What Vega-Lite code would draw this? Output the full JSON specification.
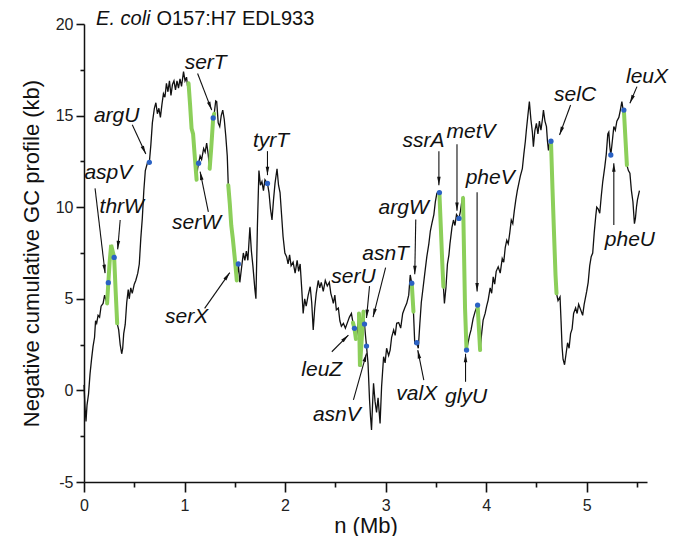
{
  "$schema": "https://vega.github.io/schema/vega-lite/v6.json",
  "width": 563,
  "height": 458,
  "autosize": {"type": "none"},
  "padding": {"left": 84, "top": 24, "right": 27, "bottom": 54},
  "background": "white",
  "config": {
    "view": {"stroke": null},
    "font": "Liberation Sans",
    "axis": {
      "grid": false,
      "domainColor": "#111",
      "domainWidth": 1.5,
      "labelColor": "#222",
      "labelFont": "Liberation Sans",
      "labelFontSize": 16,
      "titleFont": "Liberation Sans",
      "titleFontSize": 22,
      "titleFontWeight": "normal",
      "titleColor": "#111",
      "labelOverlap": false,
      "labelFlush": false
    }
  },
  "datasets": {
    "profile": [
      {"n":0.000,"gc":0.3},{"n":0.010,"gc":-0.9},{"n":0.020,"gc":-1.7},{"n":0.030,"gc":-0.8},{"n":0.045,"gc":-0.2},
      {"n":0.060,"gc":0.9},{"n":0.076,"gc":1.75},{"n":0.090,"gc":2.4},{"n":0.105,"gc":2.9},{"n":0.115,"gc":3.8},
      {"n":0.126,"gc":3.66},{"n":0.140,"gc":4.1},{"n":0.155,"gc":4.0},{"n":0.170,"gc":4.6},{"n":0.190,"gc":4.75},
      {"n":0.205,"gc":5.2},{"n":0.215,"gc":5.0},
      {"n":0.230,"gc":4.75,"i":"I1"},{"n":0.242,"gc":5.88,"i":"I1"},{"n":0.255,"gc":7.0,"i":"I1"},{"n":0.270,"gc":7.94,"i":"I1"},
      {"n":0.285,"gc":7.6,"i":"I1"},{"n":0.300,"gc":7.26,"i":"I1"},{"n":0.315,"gc":5.4,"i":"I1"},{"n":0.330,"gc":3.66,"i":"I1"},
      {"n":0.345,"gc":3.3},{"n":0.360,"gc":2.5},{"n":0.375,"gc":2.0},{"n":0.385,"gc":2.3},{"n":0.395,"gc":3.1},
      {"n":0.410,"gc":3.6},{"n":0.425,"gc":4.8},{"n":0.440,"gc":5.5},{"n":0.450,"gc":5.0},{"n":0.465,"gc":5.6},
      {"n":0.480,"gc":5.3},{"n":0.500,"gc":5.8},{"n":0.515,"gc":6.0},{"n":0.535,"gc":6.4},{"n":0.550,"gc":6.9},
      {"n":0.565,"gc":8.3},{"n":0.580,"gc":9.4},{"n":0.595,"gc":10.9},{"n":0.610,"gc":12.0},{"n":0.630,"gc":12.4},
      {"n":0.650,"gc":12.45},{"n":0.665,"gc":13.4},{"n":0.680,"gc":14.6},{"n":0.700,"gc":15.4},{"n":0.715,"gc":15.7},
      {"n":0.730,"gc":15.1},{"n":0.745,"gc":15.4},{"n":0.760,"gc":14.9},{"n":0.775,"gc":15.6},{"n":0.790,"gc":16.2},
      {"n":0.805,"gc":16.0},{"n":0.820,"gc":16.76},{"n":0.835,"gc":16.3},{"n":0.850,"gc":16.9},{"n":0.865,"gc":16.1},
      {"n":0.880,"gc":16.7},{"n":0.895,"gc":16.9},{"n":0.910,"gc":16.4},{"n":0.925,"gc":16.9},{"n":0.940,"gc":16.5},
      {"n":0.955,"gc":17.0},{"n":0.970,"gc":16.6},{"n":0.990,"gc":17.4},{"n":1.005,"gc":16.9},{"n":1.020,"gc":17.1},
      {"n":1.030,"gc":16.6},
      {"n":1.040,"gc":16.76,"i":"I2"},{"n":1.055,"gc":15.6,"i":"I2"},{"n":1.070,"gc":14.3,"i":"I2"},{"n":1.085,"gc":14.0,"i":"I2"},
      {"n":1.100,"gc":12.9,"i":"I2"},{"n":1.120,"gc":11.5,"i":"I2"},
      {"n":1.130,"gc":12.1},{"n":1.140,"gc":12.4},{"n":1.155,"gc":12.8},{"n":1.170,"gc":12.6},{"n":1.190,"gc":13.2},
      {"n":1.205,"gc":13.0},{"n":1.220,"gc":13.5},{"n":1.235,"gc":12.9},
      {"n":1.250,"gc":12.1,"i":"I3"},{"n":1.265,"gc":13.2,"i":"I3"},{"n":1.285,"gc":14.87,"i":"I3"},{"n":1.295,"gc":15.1,"i":"I3"},
      {"n":1.310,"gc":15.8},{"n":1.320,"gc":15.76},{"n":1.335,"gc":14.6},{"n":1.350,"gc":14.4},{"n":1.365,"gc":15.0},
      {"n":1.380,"gc":15.3},{"n":1.395,"gc":14.8},{"n":1.410,"gc":13.9},{"n":1.425,"gc":12.8},
      {"n":1.435,"gc":11.2,"i":"I4"},{"n":1.450,"gc":10.2,"i":"I4"},{"n":1.465,"gc":9.0,"i":"I4"},{"n":1.480,"gc":8.3,"i":"I4"},
      {"n":1.500,"gc":7.2,"i":"I4"},{"n":1.520,"gc":6.0,"i":"I4"},
      {"n":1.535,"gc":6.9},{"n":1.550,"gc":5.9},{"n":1.565,"gc":6.6},{"n":1.585,"gc":7.5},{"n":1.600,"gc":7.1},
      {"n":1.615,"gc":7.6},{"n":1.630,"gc":7.1},{"n":1.650,"gc":8.9},{"n":1.665,"gc":7.6},{"n":1.680,"gc":6.8},
      {"n":1.700,"gc":5.5},{"n":1.710,"gc":5.0},{"n":1.725,"gc":9.0},{"n":1.740,"gc":12.0},{"n":1.755,"gc":11.2},
      {"n":1.770,"gc":11.4},{"n":1.785,"gc":10.9},{"n":1.800,"gc":11.5},{"n":1.825,"gc":11.3},{"n":1.840,"gc":10.8},
      {"n":1.855,"gc":9.9},{"n":1.870,"gc":9.3},{"n":1.885,"gc":10.4},{"n":1.900,"gc":11.3},{"n":1.920,"gc":12.1},
      {"n":1.935,"gc":11.2},{"n":1.950,"gc":10.8},{"n":1.965,"gc":9.6},{"n":1.980,"gc":8.4},{"n":1.998,"gc":7.5},
      {"n":2.015,"gc":7.3},{"n":2.030,"gc":6.9},{"n":2.045,"gc":7.4},{"n":2.060,"gc":6.8},{"n":2.080,"gc":7.0},
      {"n":2.100,"gc":6.4},{"n":2.120,"gc":7.1},{"n":2.135,"gc":6.5},{"n":2.150,"gc":6.9},{"n":2.165,"gc":5.6},
      {"n":2.180,"gc":4.2},{"n":2.195,"gc":5.0},{"n":2.210,"gc":4.6},{"n":2.230,"gc":5.2},{"n":2.250,"gc":5.66},
      {"n":2.265,"gc":4.8},{"n":2.280,"gc":3.3},{"n":2.295,"gc":4.5},{"n":2.310,"gc":5.3},{"n":2.330,"gc":6.0},
      {"n":2.345,"gc":5.6},{"n":2.360,"gc":5.9},{"n":2.380,"gc":5.4},{"n":2.400,"gc":6.0},{"n":2.420,"gc":5.7},
      {"n":2.440,"gc":5.9},{"n":2.455,"gc":5.3},{"n":2.470,"gc":5.0},{"n":2.480,"gc":4.75},{"n":2.495,"gc":5.2},
      {"n":2.510,"gc":4.4},{"n":2.530,"gc":4.5},{"n":2.545,"gc":3.8},{"n":2.560,"gc":3.5},{"n":2.580,"gc":3.66},
      {"n":2.600,"gc":3.4},{"n":2.620,"gc":3.7},{"n":2.640,"gc":4.0},{"n":2.660,"gc":4.2},
      {"n":2.675,"gc":3.7,"i":"I5"},{"n":2.690,"gc":3.39,"i":"I5"},{"n":2.705,"gc":2.8,"i":"I5"},
      {"n":2.718,"gc":3.2},
      {"n":2.735,"gc":4.2,"i":"I6"},{"n":2.745,"gc":1.3,"i":"I6"},{"n":2.765,"gc":3.0,"i":"I6"},{"n":2.780,"gc":4.3,"i":"I6"},
      {"n":2.790,"gc":3.62},{"n":2.800,"gc":3.0},{"n":2.810,"gc":2.42},{"n":2.825,"gc":1.5},{"n":2.840,"gc":-0.5},
      {"n":2.850,"gc":-1.44},{"n":2.860,"gc":-2.16},{"n":2.870,"gc":-0.8},{"n":2.880,"gc":0.39},{"n":2.895,"gc":-0.6},
      {"n":2.910,"gc":-1.2},{"n":2.925,"gc":-0.4},{"n":2.945,"gc":-1.8},{"n":2.960,"gc":0.2},{"n":2.980,"gc":1.84},
      {"n":2.995,"gc":1.5},{"n":3.010,"gc":2.3},{"n":3.030,"gc":1.9},{"n":3.045,"gc":2.2},{"n":3.060,"gc":2.9},
      {"n":3.080,"gc":3.3},{"n":3.095,"gc":3.0},{"n":3.110,"gc":3.66},{"n":3.130,"gc":3.7},{"n":3.150,"gc":3.4},
      {"n":3.170,"gc":4.2},{"n":3.190,"gc":4.5},{"n":3.210,"gc":4.75},{"n":3.230,"gc":5.2},{"n":3.245,"gc":6.3},
      {"n":3.260,"gc":5.85,"i":"I7"},{"n":3.277,"gc":4.3,"i":"I7"},
      {"n":3.290,"gc":2.57},{"n":3.310,"gc":2.6},{"n":3.325,"gc":2.3},{"n":3.340,"gc":3.6},{"n":3.355,"gc":4.8},
      {"n":3.370,"gc":5.48},{"n":3.390,"gc":6.4},{"n":3.410,"gc":7.3},{"n":3.430,"gc":8.0},{"n":3.445,"gc":8.7},
      {"n":3.460,"gc":9.1},{"n":3.480,"gc":9.6},{"n":3.495,"gc":10.3},{"n":3.510,"gc":10.76},
      {"n":3.535,"gc":10.8,"i":"I8"},{"n":3.550,"gc":8.8,"i":"I8"},{"n":3.565,"gc":6.8,"i":"I8"},{"n":3.575,"gc":5.66,"i":"I8"},
      {"n":3.585,"gc":4.75},{"n":3.600,"gc":5.6},{"n":3.615,"gc":6.9},{"n":3.630,"gc":7.4},{"n":3.640,"gc":8.0},
      {"n":3.660,"gc":8.9},{"n":3.675,"gc":9.3},{"n":3.690,"gc":9.0},{"n":3.705,"gc":9.6},{"n":3.730,"gc":9.39},
      {"n":3.745,"gc":9.8},{"n":3.760,"gc":10.4},
      {"n":3.770,"gc":10.5,"i":"I9"},{"n":3.780,"gc":7.5,"i":"I9"},{"n":3.790,"gc":4.5,"i":"I9"},{"n":3.805,"gc":2.2,"i":"I9"},
      {"n":3.820,"gc":2.6},{"n":3.835,"gc":3.0},{"n":3.850,"gc":3.3},{"n":3.870,"gc":3.9},{"n":3.890,"gc":4.3},
      {"n":3.915,"gc":4.66,"i":"I10"},{"n":3.930,"gc":3.2,"i":"I10"},{"n":3.940,"gc":2.2,"i":"I10"},
      {"n":3.955,"gc":3.1},{"n":3.970,"gc":3.84},{"n":3.990,"gc":4.2},{"n":4.005,"gc":4.6},{"n":4.020,"gc":4.93},
      {"n":4.040,"gc":5.6},{"n":4.055,"gc":5.3},{"n":4.070,"gc":6.2},{"n":4.085,"gc":5.8},{"n":4.100,"gc":6.5},
      {"n":4.120,"gc":6.75},{"n":4.140,"gc":6.4},{"n":4.160,"gc":7.2},{"n":4.175,"gc":7.0},{"n":4.190,"gc":7.8},
      {"n":4.205,"gc":8.2},{"n":4.220,"gc":8.0},{"n":4.235,"gc":8.6},{"n":4.250,"gc":9.3},{"n":4.265,"gc":9.1},
      {"n":4.280,"gc":9.8},{"n":4.295,"gc":10.4},{"n":4.310,"gc":10.9},{"n":4.325,"gc":11.3},{"n":4.340,"gc":11.7},
      {"n":4.360,"gc":12.1},{"n":4.375,"gc":12.9},{"n":4.390,"gc":13.6},{"n":4.400,"gc":14.2},{"n":4.415,"gc":15.0},
      {"n":4.430,"gc":15.76},{"n":4.445,"gc":14.8},{"n":4.460,"gc":14.1},{"n":4.470,"gc":13.3},{"n":4.485,"gc":14.2},
      {"n":4.500,"gc":14.58},{"n":4.515,"gc":14.0},{"n":4.530,"gc":14.7},{"n":4.545,"gc":14.2},{"n":4.560,"gc":14.8},
      {"n":4.570,"gc":15.3},{"n":4.585,"gc":14.7},{"n":4.600,"gc":14.4},{"n":4.610,"gc":13.6},{"n":4.620,"gc":13.1},
      {"n":4.630,"gc":13.5},
      {"n":4.645,"gc":13.6,"i":"I11"},{"n":4.660,"gc":11.0,"i":"I11"},{"n":4.675,"gc":8.6,"i":"I11"},{"n":4.690,"gc":6.3,"i":"I11"},
      {"n":4.700,"gc":5.3,"i":"I11"},
      {"n":4.715,"gc":4.9},{"n":4.735,"gc":5.1},{"n":4.745,"gc":3.8},{"n":4.755,"gc":2.4},{"n":4.765,"gc":1.7},
      {"n":4.780,"gc":1.4},{"n":4.795,"gc":2.0},{"n":4.810,"gc":2.6},{"n":4.825,"gc":2.3},{"n":4.840,"gc":3.1},
      {"n":4.855,"gc":3.36},{"n":4.870,"gc":4.2},{"n":4.890,"gc":4.5},{"n":4.905,"gc":4.2},{"n":4.920,"gc":4.7},
      {"n":4.940,"gc":4.4},{"n":4.960,"gc":4.1},{"n":4.975,"gc":4.7},{"n":5.000,"gc":5.4},{"n":5.015,"gc":5.9},
      {"n":5.030,"gc":6.8},{"n":5.045,"gc":7.3},{"n":5.060,"gc":7.5},{"n":5.075,"gc":8.6},{"n":5.090,"gc":9.5},
      {"n":5.100,"gc":10.0},{"n":5.115,"gc":9.9},{"n":5.130,"gc":9.67},{"n":5.145,"gc":10.6},{"n":5.160,"gc":11.4},
      {"n":5.180,"gc":12.2},{"n":5.195,"gc":12.9},{"n":5.210,"gc":14.0},{"n":5.220,"gc":14.1},{"n":5.230,"gc":13.3},
      {"n":5.240,"gc":12.85},{"n":5.255,"gc":13.6},{"n":5.270,"gc":14.4},{"n":5.285,"gc":14.2},{"n":5.300,"gc":14.7},
      {"n":5.320,"gc":14.9},{"n":5.335,"gc":15.3},{"n":5.350,"gc":15.76},{"n":5.360,"gc":15.4},
      {"n":5.370,"gc":15.3,"i":"I12"},{"n":5.385,"gc":13.8,"i":"I12"},{"n":5.395,"gc":12.8,"i":"I12"},{"n":5.400,"gc":12.3,"i":"I12"},
      {"n":5.415,"gc":12.0},{"n":5.430,"gc":11.85},{"n":5.445,"gc":10.9},{"n":5.460,"gc":10.3},{"n":5.475,"gc":9.1},
      {"n":5.485,"gc":9.4},{"n":5.495,"gc":10.0},{"n":5.505,"gc":10.4},{"n":5.525,"gc":10.9}
    ],
    "trna": [
      {"gene":"aspV","n":0.242,"gc":5.88},{"gene":"thrW","n":0.300,"gc":7.26},{"gene":"argU","n":0.650,"gc":12.45},
      {"gene":"serW","n":1.140,"gc":12.4},{"gene":"serT","n":1.285,"gc":14.87},{"gene":"serX","n":1.535,"gc":6.9},
      {"gene":"tyrT","n":1.825,"gc":11.3},{"gene":"leuZ","n":2.690,"gc":3.39},{"gene":"serU","n":2.790,"gc":3.62},
      {"gene":"asnV","n":2.810,"gc":2.42},{"gene":"argW","n":3.260,"gc":5.85},{"gene":"valX","n":3.310,"gc":2.6},
      {"gene":"ssrA","n":3.535,"gc":10.8},{"gene":"metV","n":3.730,"gc":9.39},{"gene":"glyU","n":3.805,"gc":2.2},
      {"gene":"pheV","n":3.915,"gc":4.66},{"gene":"selC","n":4.645,"gc":13.6},{"gene":"pheU","n":5.240,"gc":12.85},
      {"gene":"leuX","n":5.370,"gc":15.3}
    ],
    "labels": [
      {"gene":"aspV","lx":0.242,"ly":11.85,"ax":0.11,"ay":11.03,"tx":0.21,"ty":6.4},
      {"gene":"thrW","lx":0.375,"ly":10.03,"ax":0.36,"ay":9.3,"tx":0.335,"ty":7.7},
      {"gene":"argU","lx":0.325,"ly":15.0,"ax":0.48,"ay":14.5,"tx":0.615,"ty":12.9},
      {"gene":"serT","lx":1.21,"ly":17.85,"ax":1.13,"ay":17.3,"tx":1.27,"ty":15.3},
      {"gene":"serW","lx":1.12,"ly":9.12,"ax":1.237,"ay":9.75,"tx":1.155,"ty":11.94},
      {"gene":"serX","lx":1.02,"ly":4.02,"ax":1.2,"ay":4.48,"tx":1.45,"ty":6.43},
      {"gene":"tyrT","lx":1.86,"ly":13.6,"ax":1.825,"ay":13.06,"tx":1.825,"ty":11.75},
      {"gene":"leuZ","lx":2.365,"ly":1.11,"ax":2.465,"ay":2.11,"tx":2.63,"ty":3.02},
      {"gene":"asnV","lx":2.515,"ly":-1.34,"ax":2.68,"ay":-0.52,"tx":2.81,"ty":2.02},
      {"gene":"serU","lx":2.68,"ly":6.2,"ax":2.84,"ay":5.69,"tx":2.81,"ty":3.95},
      {"gene":"asnT","lx":3.0,"ly":7.46,"ax":3.0,"ay":6.7,"tx":2.875,"ty":4.0},
      {"gene":"argW","lx":3.18,"ly":9.98,"ax":3.3,"ay":9.33,"tx":3.29,"ty":6.34},
      {"gene":"valX","lx":3.31,"ly":-0.19,"ax":3.38,"ay":0.56,"tx":3.32,"ty":2.2},
      {"gene":"ssrA","lx":3.376,"ly":13.6,"ax":3.53,"ay":13.06,"tx":3.53,"ty":11.2},
      {"gene":"metV","lx":3.85,"ly":14.1,"ax":3.71,"ay":13.43,"tx":3.71,"ty":9.8},
      {"gene":"pheV","lx":4.04,"ly":11.57,"ax":3.91,"ay":10.82,"tx":3.91,"ty":5.4},
      {"gene":"glyU","lx":3.8,"ly":-0.37,"ax":3.795,"ay":0.47,"tx":3.795,"ty":2.0},
      {"gene":"selC","lx":4.885,"ly":16.12,"ax":4.84,"ay":15.58,"tx":4.73,"ty":13.94},
      {"gene":"leuX","lx":5.6,"ly":17.12,"ax":5.5,"ay":16.58,"tx":5.43,"ty":15.67},
      {"gene":"pheU","lx":5.43,"ly":8.21,"ax":5.27,"ay":9.03,"tx":5.27,"ty":12.4}
    ],
    "title": [
      {"part":"E. coli","n":0.12,"gc":20.3,"style":"italic"},
      {"part":"O157:H7 EDL933","n":0.72,"gc":20.3,"style":"normal"}
    ]
  },
  "layer": [
    {
      "data": {"name": "profile"},
      "mark": {"type": "line", "color": "#111", "strokeWidth": 1.3, "strokeJoin": "miter"},
      "encoding": {
        "x": {
          "field": "n", "type": "quantitative", "title": "n (Mb)",
          "scale": {"domain": [0, 5.6], "nice": false, "zero": false},
          "axis": {
            "values": [0,0.5,1,1.5,2,2.5,3,3.5,4,4.5,5,5.5],
            "labelExpr": "datum.value % 1 === 0 ? '' + datum.value : ''",
            "tickSize": {"condition": {"test": "datum.value % 1 !== 0", "value": 5}, "value": 10},
            "tickWidth": 1.6,
            "tickColor": "#111",
            "labelPadding": 5,
            "titlePadding": 2
          }
        },
        "y": {
          "field": "gc", "type": "quantitative", "title": "Negative cumulative GC profile (kb)",
          "scale": {"domain": [-5, 20], "nice": false, "zero": false},
          "axis": {
            "values": [-5,-2.5,0,2.5,5,7.5,10,12.5,15,17.5,20],
            "labelExpr": "datum.value % 5 === 0 ? '' + datum.value : ''",
            "tickSize": {"condition": {"test": "datum.value % 5 !== 0", "value": 4}, "value": 8},
            "tickWidth": 1.6,
            "tickColor": "#111",
            "labelPadding": 3,
            "titlePadding": 12
          }
        },
        "order": {"field": "n", "type": "quantitative"}
      }
    },
    {
      "data": {"name": "profile"},
      "transform": [{"filter": "isValid(datum.i)"}],
      "mark": {"type": "line", "color": "#8ccf5a", "strokeWidth": 4, "strokeCap": "round"},
      "encoding": {
        "x": {"field": "n", "type": "quantitative"},
        "y": {"field": "gc", "type": "quantitative"},
        "detail": {"field": "i"},
        "order": {"field": "n", "type": "quantitative"}
      }
    },
    {
      "data": {"name": "trna"},
      "mark": {"type": "point", "filled": true, "color": "#2b62c4", "size": 28, "opacity": 1},
      "encoding": {
        "x": {"field": "n", "type": "quantitative"},
        "y": {"field": "gc", "type": "quantitative"}
      }
    },
    {
      "data": {"name": "labels"},
      "mark": {"type": "rule", "color": "#111", "strokeWidth": 1.1},
      "encoding": {
        "x": {"field": "ax", "type": "quantitative"},
        "y": {"field": "ay", "type": "quantitative"},
        "x2": {"field": "tx"},
        "y2": {"field": "ty"}
      }
    },
    {
      "data": {"name": "labels"},
      "transform": [
        {"calculate": "atan2((datum.tx - datum.ax) * 100.54, (datum.ty - datum.ay) * 18.32) * 180 / PI", "as": "ang"}
      ],
      "mark": {"type": "point", "shape": "M0,0L0.5,2.4L-0.5,2.4Z", "filled": true, "color": "#111", "size": 50, "opacity": 1},
      "encoding": {
        "x": {"field": "tx", "type": "quantitative"},
        "y": {"field": "ty", "type": "quantitative"},
        "angle": {"field": "ang", "type": "quantitative", "scale": null}
      }
    },
    {
      "data": {"name": "labels"},
      "mark": {"type": "text", "font": "Liberation Sans", "fontSize": 21, "fontStyle": "italic", "color": "#111", "align": "center", "baseline": "middle"},
      "encoding": {
        "x": {"field": "lx", "type": "quantitative"},
        "y": {"field": "ly", "type": "quantitative"},
        "text": {"field": "gene"}
      }
    },
    {
      "data": {"name": "title"},
      "transform": [{"filter": "datum.style === 'italic'"}],
      "mark": {"type": "text", "font": "Liberation Sans", "fontSize": 20, "fontStyle": "italic", "color": "#111", "align": "left", "baseline": "middle"},
      "encoding": {
        "x": {"field": "n", "type": "quantitative"},
        "y": {"field": "gc", "type": "quantitative"},
        "text": {"field": "part"}
      }
    },
    {
      "data": {"name": "title"},
      "transform": [{"filter": "datum.style === 'normal'"}],
      "mark": {"type": "text", "font": "Liberation Sans", "fontSize": 20, "color": "#111", "align": "left", "baseline": "middle"},
      "encoding": {
        "x": {"field": "n", "type": "quantitative"},
        "y": {"field": "gc", "type": "quantitative"},
        "text": {"field": "part"}
      }
    }
  ]
}
